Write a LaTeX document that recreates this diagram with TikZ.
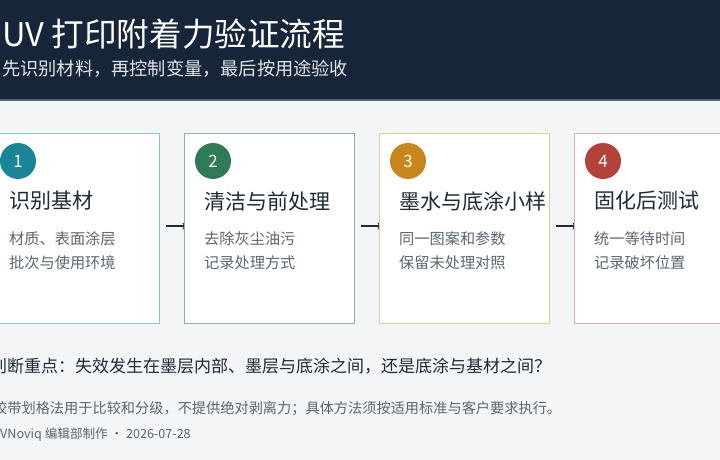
\documentclass[tikz,border=0pt]{standalone}
\usepackage{fontspec}
\setmainfont{Noto Sans CJK SC}
\usetikzlibrary{arrows.meta}
\definecolor{hdr}{HTML}{16253A}
\definecolor{bg}{HTML}{F3F5F7}
\definecolor{ink}{HTML}{1E2A36}
\definecolor{sub}{HTML}{5B6670}
\definecolor{cA}{HTML}{1A8596}
\definecolor{cB}{HTML}{2F7A57}
\definecolor{cC}{HTML}{C9861C}
\definecolor{cD}{HTML}{B3423A}
\definecolor{bA}{HTML}{8CC6CE}
\definecolor{bB}{HTML}{8FB5A6}
\definecolor{bC}{HTML}{E2CB8E}
\definecolor{bD}{HTML}{DDB0A8}
\tikzset{
  card/.style={draw=#1, fill=white, line width=0.8pt, minimum width=170pt, minimum height=190pt, inner sep=0pt},
  badge/.style={circle, fill=#1, minimum size=36pt, inner sep=0pt, text=white, font=\fontsize{17}{17}\selectfont},
  ctitle/.style={anchor=west, text=ink, font=\fontsize{21}{21}\selectfont, inner sep=0pt},
  cbody/.style={anchor=north west, text=sub, font=\fontsize{15.2}{24}\selectfont, align=left, inner sep=0pt},
  flow/.style={draw=ink, line width=1.2pt, -{Stealth[length=5pt,width=7pt]}}
}
\begin{document}
\begin{tikzpicture}[x=1pt,y=-1pt]
\useasboundingbox (0,0) rectangle (720,460);
\fill[bg] (0,0) rectangle (720,460);
\fill[hdr] (0,0) rectangle (720,99);
\fill[hdr!70!white] (0,99) rectangle (720,100.5);
\node[anchor=west, text=white, inner sep=0pt, font=\fontsize{32.6}{32.6}\selectfont] (title) at (2,34) {UV 打印附着力验证流程};
\node[anchor=west, text=white!88!hdr, inner sep=0pt, font=\fontsize{18.2}{18.2}\selectfont] (subtitle) at (2,69) {先识别材料，再控制变量，最后按用途验收};

% arrows (tips tucked under the next card)
\coordinate (a1s) at (166,226); \coordinate (a1e) at (187.5,226);
\coordinate (a2s) at (361,226); \coordinate (a2e) at (382.5,226);
\coordinate (a3s) at (556,226); \coordinate (a3e) at (577.5,226);
\draw[flow] (a1s) -- (a1e);
\draw[flow] (a2s) -- (a2e);
\draw[flow] (a3s) -- (a3e);

\node[card=bA] (k1) at (74,228) {};
\node[card=bB] (k2) at (269,228) {};
\node[card=bC] (k3) at (464,228) {};
\node[card=bD] (k4) at (659,228) {};

\node[badge=cA] (n1) at (18,161) {1};
\node[badge=cB] (n2) at (213,161) {2};
\node[badge=cC] (n3) at (408,161) {3};
\node[badge=cD] (n4) at (603,161) {4};

\node[ctitle] (t1) at (9,201) {识别基材};
\node[ctitle] (t2) at (204,201) {清洁与前处理};
\node[ctitle] (t3) at (399,201) {墨水与底涂小样};
\node[ctitle] (t4) at (594,201) {固化后测试};

\node[cbody] (d1) at (9,231) {材质、表面涂层\\批次与使用环境};
\node[cbody] (d2) at (204,231) {去除灰尘油污\\记录处理方式};
\node[cbody] (d3) at (399,231) {同一图案和参数\\保留未处理对照};
\node[cbody] (d4) at (594,231) {统一等待时间\\记录破坏位置};

\node[anchor=west, text=ink, inner sep=0pt, font=\fontsize{17}{17}\selectfont] (key) at (-10,366) {判断重点：失效发生在墨层内部、墨层与底涂之间，还是底涂与基材之间？};
\node[anchor=west, text=sub, inner sep=0pt, font=\fontsize{14.2}{14.2}\selectfont] (note) at (-7,409) {胶带划格法用于比较和分级，不提供绝对剥离力；具体方法须按适用标准与客户要求执行。};
\node[anchor=west, text=sub, inner sep=0pt, font=\fontsize{12.6}{12.6}\selectfont] (credit) at (0,435) {VNoviq 编辑部制作 · 2026-07-28};
\end{tikzpicture}
\end{document}
